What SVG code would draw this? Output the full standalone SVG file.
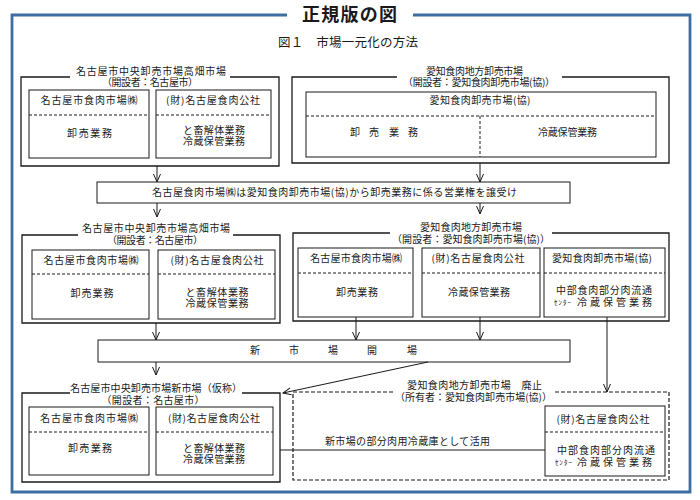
<svg xmlns="http://www.w3.org/2000/svg" width="700" height="500" viewBox="0 0 700 500">
<defs>
<style>
text{font-family:"Noto Sans CJK JP","Noto Sans",sans-serif;fill:#1a1a1a;font-size:10px}
.m{text-anchor:middle}
.box{fill:none;stroke:#1a1a1a;stroke-width:1}
.outer{fill:none;stroke:#1a1a1a;stroke-width:1.3}
.dash{fill:none;stroke:#1a1a1a;stroke-width:1;stroke-dasharray:3 2}
.odash{fill:none;stroke:#1a1a1a;stroke-width:1.2;stroke-dasharray:4 2}
.ln{fill:none;stroke:#1a1a1a;stroke-width:1}
.arr{fill:none;stroke:#1a1a1a;stroke-width:1;marker-end:url(#v)}
.sm{font-size:7px}
</style>
<marker id="v" viewBox="-1 -5 11 10" refX="8" refY="0" markerWidth="11" markerHeight="10" markerUnits="userSpaceOnUse" orient="auto" overflow="visible">
<path d="M0,-3.5 L8,0 L0,3.5" fill="none" stroke="#1a1a1a" stroke-width="1"/>
</marker>
</defs>
<rect width="700" height="500" fill="#ffffff"/>

<g id="frame">
<path d="M287,15 H12 V492 H690 V15 H413" fill="none" stroke="#3f6ea3" stroke-width="2.8"/>
<text x="350" y="20.5" class="m" style="font-size:18px;font-weight:bold;letter-spacing:1px" textLength="96">正規版の図</text>
<text x="348" y="47" class="m" style="font-size:12.5px" textLength="140">図１　市場一元化の方法</text>
</g>

<g id="node-tl">
<path class="outer" d="M70,77 H21 V166 H279 V77 H230"/>
<text x="151" y="75" class="m" textLength="150">名古屋市中央卸売市場高畑市場</text>
<text x="150" y="86" class="m" textLength="96">（開設者：名古屋市）</text>
<rect class="box" x="29" y="90" width="120" height="68"/>
<line class="dash" x1="29" y1="115" x2="149" y2="115"/>
<text x="89" y="104" class="m" textLength="97">名古屋市食肉市場㈱</text>
<text x="89.5" y="137" class="m" textLength="45">卸売業務</text>
<rect class="box" x="156" y="90" width="115" height="68"/>
<line class="dash" x1="156" y1="115" x2="271" y2="115"/>
<text x="213" y="104" class="m" textLength="94">(財)名古屋食肉公社</text>
<text x="214" y="134" class="m" textLength="62">と畜解体業務</text>
<text x="214" y="145" class="m" textLength="62">冷蔵保管業務</text>
</g>

<g id="node-tr">
<path class="outer" d="M397,77 H292 V163 H669 V77 H562"/>
<text x="474.5" y="75" class="m" textLength="97">愛知食肉地方卸売市場</text>
<text x="479" y="86" class="m" textLength="152">（開設者：愛知食肉卸売市場(協)）</text>
<rect class="box" x="306" y="92" width="350" height="65"/>
<line class="dash" x1="306" y1="116" x2="656" y2="116"/>
<line class="dash" x1="480" y1="116" x2="480" y2="157"/>
<text x="480" y="104" class="m" textLength="101">愛知食肉卸売市場(協)</text>
<text x="355 374 394 413" y="136" class="m">卸売業務</text>
<text x="567.5" y="136" class="m" textLength="59">冷蔵保管業務</text>
</g>

<g id="node-band1">
<rect class="box" x="97" y="182" width="473" height="21"/>
<text x="334.5" y="196" class="m" textLength="365">名古屋食肉市場㈱は愛知食肉卸売市場(協)から卸売業務に係る営業権を譲受け</text>
</g>

<g id="node-ml">
<path class="outer" d="M78,235 H22 V323 H280 V235 H233"/>
<text x="156" y="232" class="m" textLength="148">名古屋市中央卸売市場高畑市場</text>
<text x="155" y="244" class="m" textLength="96">（開設者：名古屋市）</text>
<rect class="box" x="32" y="250" width="117" height="69"/>
<line class="dash" x1="32" y1="274" x2="149" y2="274"/>
<text x="91" y="264" class="m" textLength="95">名古屋市食肉市場㈱</text>
<text x="92" y="297" class="m" textLength="43">卸売業務</text>
<rect class="box" x="158" y="250" width="117" height="69"/>
<line class="dash" x1="158" y1="274" x2="275" y2="274"/>
<text x="217" y="264" class="m" textLength="93">(財)名古屋食肉公社</text>
<text x="217" y="296" class="m" textLength="63">と畜解体業務</text>
<text x="217" y="307" class="m" textLength="63">冷蔵保管業務</text>
</g>

<g id="node-mr">
<path class="outer" d="M390,233 H293 V321 H669 V233 H552"/>
<text x="471" y="230.5" class="m" textLength="102">愛知食肉地方卸売市場</text>
<text x="471" y="243" class="m" textLength="158">（開設者：愛知食肉卸売市場(協)）</text>
<rect class="box" x="298" y="248" width="115" height="69"/>
<line class="dash" x1="298" y1="273" x2="413" y2="273"/>
<text x="356" y="262" class="m" textLength="92">名古屋市食肉市場㈱</text>
<text x="357" y="296" class="m" textLength="42">卸売業務</text>
<rect class="box" x="422" y="248" width="118" height="69"/>
<line class="dash" x1="422" y1="273" x2="540" y2="273"/>
<text x="478" y="262" class="m" textLength="93">(財)名古屋食肉公社</text>
<text x="479" y="296" class="m" textLength="62">冷蔵保管業務</text>
<rect class="box" x="544" y="248" width="121" height="69"/>
<line class="dash" x1="544" y1="273" x2="665" y2="273"/>
<text x="602" y="262" class="m" textLength="100">愛知食肉卸売市場(協)</text>
<text x="604" y="293.5" class="m" textLength="96">中部食肉部分肉流通</text>
<text x="554" y="305" class="sm" textLength="17">ｾﾝﾀｰ</text>
<text x="577" y="305.5" textLength="75">冷蔵保管業務</text>
</g>

<g id="node-band2">
<rect class="box" x="98" y="340" width="472" height="22"/>
<text x="255 294 333 372 412" y="354" class="m">新市場開場</text>
</g>

<g id="node-bl">
<path class="outer" d="M70,393 H22 V482 H280 V393 H242"/>
<text x="156" y="392" class="m" textLength="172">名古屋市中央卸売市場新市場（仮称）</text>
<text x="153" y="404" class="m" textLength="103">（開設者：名古屋市）</text>
<rect class="box" x="29" y="407" width="120" height="68"/>
<line class="dash" x1="29" y1="432" x2="149" y2="432"/>
<text x="89" y="422" class="m" textLength="98">名古屋市食肉市場㈱</text>
<text x="90" y="452" class="m" textLength="44">卸売業務</text>
<rect class="box" x="156" y="407" width="117" height="68"/>
<line class="dash" x1="156" y1="432" x2="273" y2="432"/>
<text x="214" y="422" class="m" textLength="92">(財)名古屋食肉公社</text>
<text x="214" y="452" class="m" textLength="62">と畜解体業務</text>
<text x="214" y="463" class="m" textLength="62">冷蔵保管業務</text>
</g>

<g id="node-br">
<path class="odash" d="M393,392 H293 V480 H669 V392 H555"/>
<text x="474.5" y="388.5" class="m" textLength="135">愛知食肉地方卸売市場　廃止</text>
<text x="473.5" y="400.5" class="m" textLength="157">（所有者：愛知食肉卸売市場(協)）</text>
<rect class="box" x="545" y="406" width="120" height="70"/>
<line class="dash" x1="545" y1="432" x2="665" y2="432"/>
<text x="603" y="423" class="m" textLength="93">(財)名古屋食肉公社</text>
<text x="606" y="453.5" class="m" textLength="98">中部食肉部分肉流通</text>
<text x="555" y="465" class="sm" textLength="17">ｾﾝﾀｰ</text>
<text x="577" y="465.5" textLength="75">冷蔵保管業務</text>
</g>

<g id="connectors">
<line class="arr" x1="157" y1="166" x2="157" y2="182"/>
<line class="arr" x1="480" y1="163" x2="480" y2="182"/>
<line class="arr" x1="157" y1="203" x2="157" y2="217"/>
<line class="arr" x1="480" y1="203" x2="480" y2="214"/>
<line class="arr" x1="156" y1="323" x2="156" y2="340"/>
<line class="arr" x1="356" y1="317" x2="356" y2="340"/>
<line class="arr" x1="480" y1="317" x2="480" y2="340"/>
<line class="arr" x1="607" y1="317" x2="607" y2="392"/>
<line class="arr" x1="156" y1="362" x2="156" y2="375"/>
<line class="arr" x1="428" y1="362" x2="283" y2="393"/>
<line class="ln" x1="280" y1="450" x2="545" y2="450"/>
<text x="407.5" y="445" class="m" textLength="165">新市場の部分肉用冷蔵庫として活用</text>
</g>
</svg>
